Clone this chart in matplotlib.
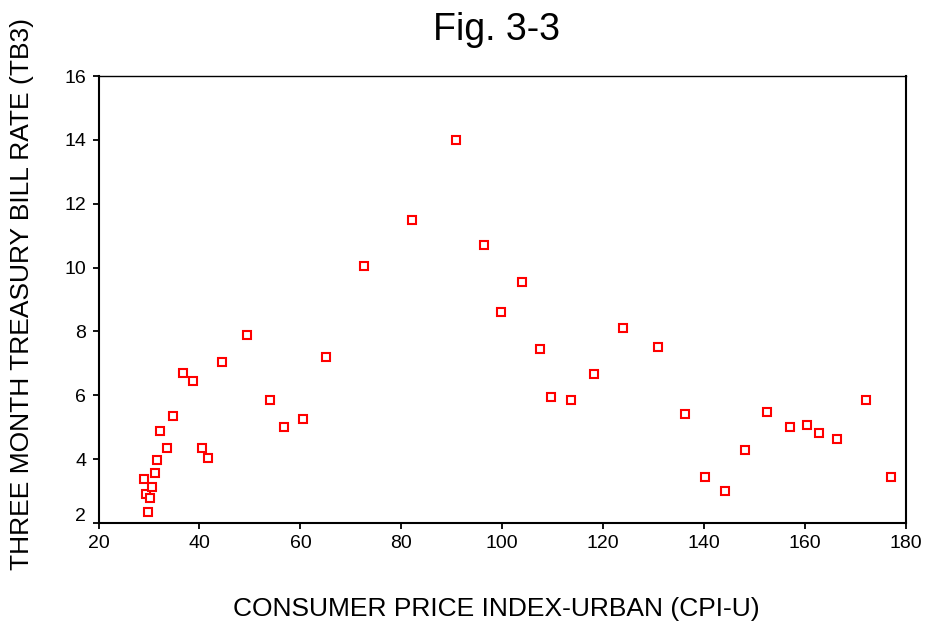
import matplotlib.pyplot as plt
from matplotlib.transforms import ScaledTranslation

plt.rcParams['font.family'] = ['Liberation Sans', 'DejaVu Sans']

# CPI-U (x) and TB3 rate (y)
cpi = [29.0, 29.4, 29.9, 30.2, 30.6, 31.1, 31.5, 32.2, 33.5, 34.7,
       36.8, 38.8, 40.5, 41.7, 44.5, 49.4, 53.9, 56.8, 60.5, 65.0,
       72.7, 82.1, 90.75, 96.4, 99.7, 103.9, 107.5, 109.6, 113.6, 118.1,
       123.9, 130.8, 136.2, 140.2, 144.2, 148.0, 152.5, 157.0, 160.3, 162.7,
       166.3, 172.1, 177.0]
tb3 = [3.38, 2.90, 2.34, 2.79, 3.14, 3.56, 3.97, 4.88, 4.34, 5.36,
       6.69, 6.44, 4.34, 4.04, 7.03, 7.89, 5.84, 5.01, 5.25, 7.21,
       10.04, 11.48, 13.99, 10.71, 8.60, 9.56, 7.46, 5.96, 5.84, 6.68,
       8.11, 7.51, 5.41, 3.44, 3.01, 4.28, 5.48, 5.00, 5.06, 4.82,
       4.64, 5.84, 3.44]

xticks = [20, 40, 60, 80, 100, 120, 140, 160, 180]
yticks = [2, 4, 6, 8, 10, 12, 14, 16]

fig = plt.figure(figsize=(9.26, 6.22), dpi=100)
ax = fig.add_axes([0.1064, 0.1592, 0.8720, 0.7186])

ax.plot(cpi, tb3, linestyle='none', marker='s', markersize=6.3,
        markerfacecolor='white', markeredgecolor='#ff0000', markeredgewidth=1.5)

ax.set_xlim(20, 180)
ax.set_ylim(2, 16)
ax.set_xticks(xticks)
ax.set_yticks(yticks)
ax.tick_params(direction='out', length=4, width=1.3, labelsize=14, pad=5)

for name, sp in ax.spines.items():
    sp.set_linewidth(1.0 if name == 'top' else 1.5)

# nudge the lowest y label up a bit, like the original
for lab in ax.get_yticklabels():
    if lab.get_text() == '2':
        lab.set_transform(lab.get_transform() + ScaledTranslation(0, 0.08, fig.dpi_scale_trans))

fig.text(496 / 926, 1 - 30 / 622, 'Fig. 3-3', fontsize=27, ha='center', va='center')
fig.text(496 / 926, 1 - 609 / 622, 'CONSUMER PRICE INDEX-URBAN (CPI-U)',
         fontsize=19, ha='center', va='center')
fig.text(22 / 926, 1 - 294 / 622, 'THREE MONTH TREASURY BILL RATE (TB3)',
         fontsize=19, ha='center', va='center', rotation=90)

fig.savefig('out.png', dpi=100, facecolor='white')
